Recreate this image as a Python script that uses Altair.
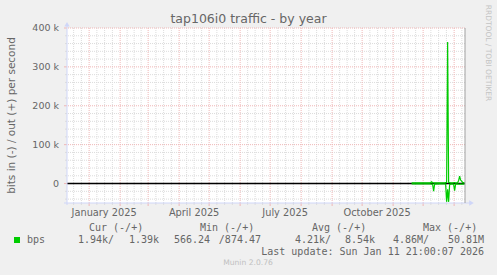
import altair as alt
import pandas as pd

# ---------------- data ----------------
TITLE = "tap106i0 traffic - by year"
Y_TITLE = "bits in (-) / out (+) per second"
WATERMARK = "RRDTOOL / TOBI OETIKER"
FOOTER = "Munin 2.0.76"
LAST_UPDATE = "Last update: Sun Jan 11 21:00:07 2026"

dates = ["2025-11-19", "2025-11-26", "2025-12-03", "2025-12-07", "2025-12-08",
         "2025-12-09", "2025-12-10", "2025-12-11", "2025-12-12", "2025-12-17",
         "2025-12-22", "2025-12-23", "2025-12-24", "2025-12-25", "2025-12-26",
         "2025-12-27", "2025-12-28", "2025-12-30", "2025-12-31", "2026-01-01",
         "2026-01-02", "2026-01-04", "2026-01-05", "2026-01-06", "2026-01-07",
         "2026-01-08", "2026-01-09", "2026-01-10", "2026-01-11"]
out_bps = [1800, 1900, 1800, 2000, 2500,
           4500, 2000, 1800, 1800, 1900,
           2000, 2500, 3000, 364000, 3000,
           2500, 2000, 2000, 2200, 2500,
           2000, 2200, 8000, 18800, 9000,
           6000, 3000, 2500, 2000]
in_bps = [900, 1000, 900, 1000, 1200,
          1500, 2000, 19800, 1500, 1000,
          1200, 1500, 47000, 15000, 47000,
          3000, 1500, 1200, 2000, 18000,
          1500, 1200, 1500, 1800, 1500,
          1500, 1400, 1400, 1400]

y_tick_values = [0, 100000, 200000, 300000, 400000]
y_tick_labels = ["0", "100 k", "200 k", "300 k", "400 k"]
month_label_dates = ["2025-01-16", "2025-04-16", "2025-07-16", "2025-10-16"]
month_labels = ["January 2025", "April 2025", "July 2025", "October 2025"]

legend_headers = ["Cur (-/+)", "Min (-/+)", "Avg (-/+)", "Max (-/+)"]
legend_in = ["1.94k/", "566.24", "4.21k/", "4.86M/"]
legend_out = ["1.39k", "/874.47", "8.54k", "50.81M"]

# ---------------- layout ----------------
OX, OY = 67, 28
W, H = 398, 175
T0 = pd.Timestamp("2024-12-09T21:00:00Z")
T1 = pd.Timestamp("2026-01-11T21:00:00Z")
xscale = alt.Scale(type="utc", domain=[int(T0.value // 10**6), int(T1.value // 10**6)])
yscale = alt.Scale(domain=[-50000, 400000], nice=False, zero=False)

GREEN = "#00cc00"
FONT_C = "#666666"
AXIS_C = "#cfd6f8"
MINOR_C = "#dcdcdc"
MAJOR_C = "#efb6b6"


def iso(t):
    return t.strftime("%Y-%m-%dT%H:%M:%SZ")


# grid positions
month_starts = pd.date_range("2025-01-01", "2026-01-01", freq="MS", tz="UTC")
minor_x = []
for m in pd.date_range("2024-12-01", "2026-01-01", freq="MS", tz="UTC"):
    nxt = m + pd.offsets.MonthBegin(1)
    for k in (1, 2, 3):
        t = m + (nxt - m) * k / 4
        if T0 < t < T1:
            minor_x.append(iso(t))
major_x_df = pd.DataFrame({"t": [iso(t) for t in month_starts]})
minor_x_df = pd.DataFrame({"t": minor_x})
minor_y_df = pd.DataFrame({"v": [v for v in range(-40000, 400001, 20000) if v % 100000 != 0]})
major_y_df = pd.DataFrame({"v": list(range(0, 400001, 100000))})

X = alt.X("t:T", scale=xscale, axis=None)
Y = alt.Y("v:Q", scale=yscale, axis=None)

one = pd.DataFrame({"k": [0]})


def txt(x, y, s, size, color=FONT_C, align="center", font="DejaVu Sans", angle=0):
    return alt.Chart(one).mark_text(
        text=s, fontSize=size, color=color, align=align, baseline="middle",
        font=font, angle=angle
    ).encode(x=alt.value(x - OX), y=alt.value(y - OY))


layers = []
# grid
layers.append(alt.Chart(minor_y_df).mark_rule(color=MINOR_C, strokeDash=[1, 1], strokeWidth=1).encode(y=Y))
layers.append(alt.Chart(minor_x_df).mark_rule(color=MINOR_C, strokeDash=[1, 1], strokeWidth=1).encode(x=X))
layers.append(alt.Chart(major_y_df).mark_rule(color=MAJOR_C, strokeDash=[1, 1], strokeWidth=1).encode(y=Y))
layers.append(alt.Chart(major_x_df).mark_rule(color=MAJOR_C, strokeDash=[1, 1], strokeWidth=1).encode(x=X))
# small ticks under x axis / left of y axis
layers.append(alt.Chart(minor_x_df).mark_rule(color=MINOR_C, strokeWidth=1).encode(
    x=X, y=alt.value(H), y2=alt.value(H + 2)))
layers.append(alt.Chart(major_x_df).mark_rule(color=MAJOR_C, strokeWidth=1).encode(
    x=X, y=alt.value(H), y2=alt.value(H + 3)))
layers.append(alt.Chart(major_y_df).mark_rule(color=MAJOR_C, strokeWidth=1).encode(
    y=Y, x=alt.value(-3), x2=alt.value(0)))
layers.append(alt.Chart(minor_y_df).mark_rule(color=MINOR_C, strokeWidth=1).encode(
    y=Y, x=alt.value(-2), x2=alt.value(0)))

# zero line
layers.append(alt.Chart(pd.DataFrame({"v": [0]})).mark_rule(color="#000000", strokeWidth=1.4).encode(y=Y))

# data lines
iso_dates = [d + "T12:00:00Z" for d in dates]
line_df = pd.concat([
    pd.DataFrame({"t": iso_dates, "v": out_bps, "s": "out"}),
    pd.DataFrame({"t": iso_dates, "v": [-v for v in in_bps], "s": "in"}),
])
layers.append(alt.Chart(line_df).mark_line(color=GREEN, strokeWidth=1.2).encode(
    x=X, y=Y, detail="s:N"))

# axes (lavender) with arrows
layers.append(alt.Chart(one).mark_rule(color=AXIS_C, strokeWidth=1).encode(
    x=alt.value(0), y=alt.value(-3), y2=alt.value(H + 2)))
layers.append(alt.Chart(one).mark_rule(color=AXIS_C, strokeWidth=1).encode(
    x=alt.value(-3), x2=alt.value(W + 5), y=alt.value(H)))
layers.append(alt.Chart(one).mark_point(shape="triangle-up", filled=True, size=28, color=AXIS_C, opacity=1).encode(
    x=alt.value(0), y=alt.value(-3.8)))
layers.append(alt.Chart(one).mark_point(shape="triangle-right", filled=True, size=28, color=AXIS_C, opacity=1).encode(
    x=alt.value(W + 6.5), y=alt.value(H)))
# right border
layers.append(alt.Chart(one).mark_rule(color="#a0a0a0", strokeWidth=1).encode(
    x=alt.value(W), y=alt.value(0), y2=alt.value(H)))

# y tick labels
layers.append(alt.Chart(pd.DataFrame({"v": y_tick_values, "lab": y_tick_labels})).mark_text(
    align="right", baseline="middle", fontSize=9.5, font="DejaVu Sans", color=FONT_C
).encode(y=Y, x=alt.value(59 - OX), text="lab:N"))

# x month labels
layers.append(alt.Chart(pd.DataFrame({"t": [d + "T00:00:00Z" for d in month_label_dates],
                                      "lab": month_labels})).mark_text(
    align="center", baseline="middle", fontSize=9.8, font="DejaVu Sans", color=FONT_C
).encode(x=X, y=alt.value(213 - OY), text="lab:N"))

# titles
layers.append(txt(248.5, 18.5, TITLE, 12.5))
layers.append(txt(12, 115.5, Y_TITLE, 10.5, angle=270))
layers.append(txt(488, 53, WATERMARK, 7.5, color="#c4c4c4", angle=90))

# legend
MONO = "DejaVu Sans Mono"
for hx, h in zip([89, 200, 312, 423], legend_headers):
    layers.append(txt(hx, 228, h, 10, align="left", font=MONO))
layers.append(alt.Chart(one).mark_square(size=36, color=GREEN, filled=True, opacity=1).encode(
    x=alt.value(17 - OX), y=alt.value(240 - OY)))
layers.append(txt(27, 240, "bps", 10, align="left", font=MONO))
for sx, s in zip([78, 174, 295, 393], legend_in):
    layers.append(txt(sx, 240, s, 10, align="left", font=MONO))
for ex, s in zip([159, 261, 375, 484], legend_out):
    layers.append(txt(ex, 240, s, 10, align="right", font=MONO))
layers.append(txt(484, 252, LAST_UPDATE, 10, align="right", font=MONO))
layers.append(txt(248, 263, FOOTER, 7.6, color="#c0c0c0"))

chart = alt.layer(*layers).properties(
    width=W, height=H,
    background="#f0f0f0",
    padding={"left": OX, "top": OY, "right": 497 - OX - W, "bottom": 275 - OY - H},
    autosize=alt.AutoSizeParams(type="none"),
).configure_view(stroke=None, fill="#ffffff")

chart.save("out.html", embed_options={"renderer": "svg", "actions": False})
